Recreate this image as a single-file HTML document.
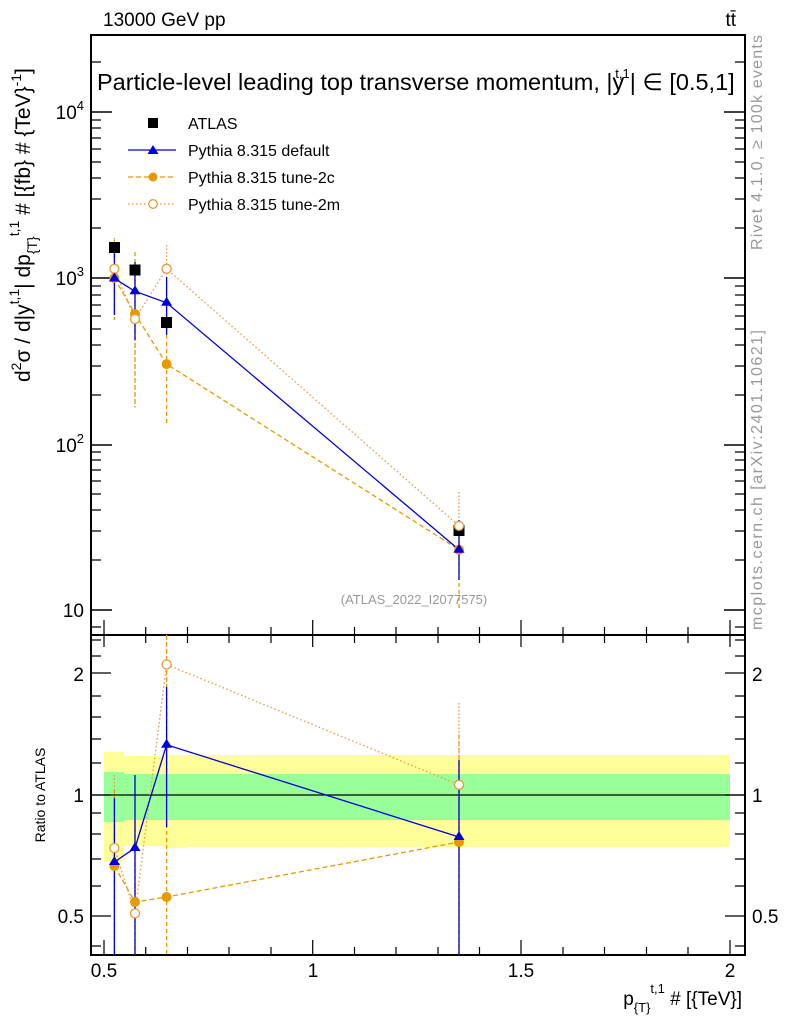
<!DOCTYPE html>
<html><head><style>body{margin:0;background:#fff}svg{display:block}text{font-family:"Liberation Sans",sans-serif}</style></head><body>
<svg width="786" height="1024" xmlns="http://www.w3.org/2000/svg">
<rect x="104" y="752" width="20" height="110" fill="#ffff99"/>
<rect x="124" y="756" width="43" height="90" fill="#ffff99"/>
<rect x="167" y="755" width="20" height="93" fill="#ffff99"/>
<rect x="187" y="755" width="543" height="92" fill="#ffff99"/>
<rect x="104" y="772" width="20" height="50" fill="#99ff99"/>
<rect x="124" y="774" width="63" height="46" fill="#99ff99"/>
<rect x="187" y="774" width="543" height="46" fill="#99ff99"/>
<line x1="91" y1="795" x2="745" y2="795" stroke="#000" stroke-width="1.2"/>
<rect x="91" y="35" width="654" height="600" fill="none" stroke="#000" stroke-width="2"/>
<rect x="91" y="635" width="654" height="320" fill="none" stroke="#000" stroke-width="2"/>
<g stroke="#000" stroke-width="1.5">
<line x1="91" y1="610" x2="112" y2="610"/><line x1="91" y1="445" x2="112" y2="445"/><line x1="91" y1="278" x2="112" y2="278"/><line x1="91" y1="112" x2="112" y2="112"/>
<line x1="724" y1="610" x2="745" y2="610"/><line x1="724" y1="445" x2="745" y2="445"/><line x1="724" y1="278" x2="745" y2="278"/><line x1="724" y1="112" x2="745" y2="112"/>
</g>
<g stroke="#000" stroke-width="1.2">
<path d="M91 627h10M91 560h10M91 531h10M91 510h10M91 494h10M91 481h10M91 470h10M91 460h10M91 452h10M91 395h10M91 366h10M91 345h10M91 329h10M91 316h10M91 305h10M91 295h10M91 286h10M91 228h10M91 199h10M91 178h10M91 162h10M91 149h10M91 138h10M91 128h10M91 120h10M91 62h10"/>
<path d="M745 627h-10M745 560h-10M745 531h-10M745 510h-10M745 494h-10M745 481h-10M745 470h-10M745 460h-10M745 452h-10M745 395h-10M745 366h-10M745 345h-10M745 329h-10M745 316h-10M745 305h-10M745 295h-10M745 286h-10M745 228h-10M745 199h-10M745 178h-10M745 162h-10M745 149h-10M745 138h-10M745 128h-10M745 120h-10M745 62h-10"/>
<path d="M91 795h20M91 673h20M91 916h20M745 795h-20M745 673h-20M745 916h-20"/>
<path d="M91 946h10M91 886h10M91 859h10M91 834h10M91 813h10M91 763h10M91 739h10M91 717h10M91 696h10M91 656h10M91 640h10M745 946h-10M745 886h-10M745 859h-10M745 834h-10M745 813h-10M745 763h-10M745 739h-10M745 717h-10M745 696h-10M745 656h-10M745 640h-10"/>
<path d="M104 635v-15M312.7 635v-15M521 635v-15M730 635v-15M104 955v-15M312.7 955v-15M521 955v-15M730 955v-15"/>
<path d="M145.7 635v-8M187.5 635v-8M229 635v-8M271 635v-8M354.5 635v-8M396 635v-8M438 635v-8M479.5 635v-8M563 635v-8M604.5 635v-8M646.5 635v-8M688 635v-8"/>
<path d="M145.7 955v-8M187.5 955v-8M229 955v-8M271 955v-8M354.5 955v-8M396 955v-8M438 955v-8M479.5 955v-8M563 955v-8M604.5 955v-8M646.5 955v-8M688 955v-8"/>
<path d="M145.7 635v8M187.5 635v8M229 635v8M271 635v8M354.5 635v8M396 635v8M438 635v8M479.5 635v8M563 635v8M604.5 635v8M646.5 635v8M688 635v8M104 635v12M312.7 635v12M521 635v12M730 635v12"/>
</g>
<g stroke="#e69a00" stroke-width="1.3" stroke-dasharray="4,3" fill="none">
<path d="M114.4 240v80M135 252v155M166.6 300v125M459 520v90"/>
</g>
<g stroke="#e8993a" stroke-width="1.3" stroke-dasharray="1.5,2" fill="none">
<path d="M114.4 238v60M135 280v128M166.6 245v60M459 492v72"/>
</g>
<g stroke="#0000dd" stroke-width="1.3" fill="none">
<path d="M114.4 245v70M135 262v78M166.6 277v58M459 520v60"/>
</g>
<polyline points="114.4,268.8 135,319 166.6,268.8 459,525.9" fill="none" stroke="#e8993a" stroke-width="1.3" stroke-dasharray="1.5,2.5"/>
<polyline points="114.4,278 135,314 166.6,364.1 459,549.7" fill="none" stroke="#e69a00" stroke-width="1.3" stroke-dasharray="5,3"/>
<polyline points="114.4,278.5 135,291.3 166.6,302.8 459,549.7" fill="none" stroke="#0000dd" stroke-width="1.3"/>
<g fill="#000"><rect x="109" y="242" width="11" height="11"/><rect x="129.5" y="264.5" width="11" height="11"/><rect x="161" y="317" width="11" height="11"/><rect x="453.5" y="525" width="11" height="11"/></g>
<g fill="#e69a00"><circle cx="114.4" cy="278" r="5"/><circle cx="135" cy="314" r="5"/><circle cx="166.6" cy="364.1" r="5"/><circle cx="459" cy="549.7" r="5"/></g>
<g fill="#fff" stroke="#e8993a" stroke-width="1.3"><circle cx="114.4" cy="268.8" r="4.5"/><circle cx="135" cy="319" r="4.5"/><circle cx="166.6" cy="268.8" r="4.5"/><circle cx="459" cy="525.9" r="4.5"/></g>
<g fill="#0000dd"><path d="M114.4 272.5l-5.5 9h11z"/><path d="M135 285.3l-5.5 9h11z"/><path d="M166.6 296.8l-5.5 9h11z"/><path d="M459 543.7l-5.5 9h11z"/></g>
<g stroke="#e69a00" stroke-width="1.3" stroke-dasharray="4,3" fill="none"><path d="M114.4 790v165M135 820v135M166.6 635v320M459 955v-220"/></g>
<g stroke="#e8993a" stroke-width="1.3" stroke-dasharray="1.5,2" fill="none"><path d="M114.4 775v180M135 820v135M166.6 635v180M459 703v252"/></g>
<g stroke="#0000dd" stroke-width="1.3" fill="none"><path d="M114.4 798v157M135 775v180M166.6 687v140M459 760v195"/></g>
<polyline points="114.4,848 135,913.4 166.6,664.5 459,784.8" fill="none" stroke="#e8993a" stroke-width="1.3" stroke-dasharray="1.5,2.5"/>
<polyline points="114.4,866 135,902 166.6,897 459,842" fill="none" stroke="#e69a00" stroke-width="1.3" stroke-dasharray="5,3"/>
<polyline points="114.4,862 135,848 166.6,744.8 459,837" fill="none" stroke="#0000dd" stroke-width="1.3"/>
<g fill="#e69a00"><circle cx="114.4" cy="866" r="5"/><circle cx="135" cy="902" r="5"/><circle cx="166.6" cy="897" r="5"/><circle cx="459" cy="842" r="5"/></g>
<g fill="#fff" stroke="#e8993a" stroke-width="1.3"><circle cx="114.4" cy="848" r="4.5"/><circle cx="135" cy="913.4" r="4.5"/><circle cx="166.6" cy="664.5" r="4.5"/><circle cx="459" cy="784.8" r="4.5"/></g>
<g fill="#0000dd"><path d="M114.4 856l-5.5 9h11z"/><path d="M135 842l-5.5 9h11z"/><path d="M166.6 738.8l-5.5 9h11z"/><path d="M459 831l-5.5 9h11z"/></g>
<rect x="148" y="118" width="10" height="10" fill="#000"/>
<text x="188" y="129" font-size="16">ATLAS</text>
<line x1="128" y1="150" x2="176" y2="150" stroke="#0000dd" stroke-width="1.3"/><path d="M153 145l-5.5 9h11z" fill="#0000dd"/>
<text x="188" y="156" font-size="16">Pythia 8.315 default</text>
<line x1="128" y1="177" x2="176" y2="177" stroke="#e69a00" stroke-width="1.3" stroke-dasharray="5,3"/><circle cx="153" cy="177" r="4.5" fill="#e69a00"/>
<text x="188" y="183" font-size="16">Pythia 8.315 tune-2c</text>
<line x1="128" y1="204" x2="176" y2="204" stroke="#e8993a" stroke-width="1.3" stroke-dasharray="1.5,2.5"/><circle cx="153" cy="204" r="4.3" fill="#fff" stroke="#e8993a" stroke-width="1.3"/>
<text x="188" y="210" font-size="16">Pythia 8.315 tune-2m</text>
<text x="103" y="26" font-size="19">13000 GeV pp</text>
<text x="736" y="26" font-size="19" text-anchor="end">tt̄</text>
<text x="97" y="90" font-size="23.5">Particle-level leading top transverse momentum, |y<tspan font-size="13" dx="-9" dy="-12">t,1</tspan><tspan dy="12">| ∈ [0.5,1]</tspan></text>
<text x="414" y="604" font-size="13" fill="#999" text-anchor="middle">(ATLAS_2022_I2077575)</text>
<g font-size="19" text-anchor="end">
<text x="84" y="617">10</text><text x="84" y="452">10<tspan font-size="13" dy="-9">2</tspan></text><text x="84" y="285">10<tspan font-size="13" dy="-9">3</tspan></text><text x="84" y="119">10<tspan font-size="13" dy="-9">4</tspan></text>
<text x="84" y="681">2</text><text x="84" y="802">1</text><text x="84" y="923">0.5</text>
</g>
<g font-size="19"><text x="752" y="681">2</text><text x="752" y="802">1</text><text x="752" y="923">0.5</text></g>
<g font-size="19" text-anchor="middle"><text x="104" y="977">0.5</text><text x="313" y="977">1</text><text x="521" y="977">1.5</text><text x="730" y="977">2</text></g>
<text x="742" y="1005" font-size="19" text-anchor="end">p<tspan font-size="13" dy="7">{T}</tspan><tspan font-size="13" dy="-19">t,1</tspan><tspan dy="12"> # [{TeV}]</tspan></text>
<text transform="translate(45,795) rotate(-90)" font-size="14" text-anchor="middle">Ratio to ATLAS</text>
<text transform="translate(30,382) rotate(-90)" font-size="21">d<tspan font-size="14" dy="-9">2</tspan><tspan dy="9">σ / d|y</tspan><tspan font-size="14" dy="-11">t,1</tspan><tspan dy="11">| dp</tspan><tspan font-size="14" dy="7">{T}</tspan><tspan font-size="14" dy="-18">t,1</tspan><tspan dy="11"> # [{fb} # {TeV}</tspan><tspan font-size="14" dy="-9">-1</tspan><tspan dy="9">]</tspan></text>
<text transform="translate(762,250) rotate(-90)" font-size="16" fill="#999" textLength="215" lengthAdjust="spacing">Rivet 4.1.0, ≥ 100k events</text>
<text transform="translate(762,630) rotate(-90)" font-size="16" fill="#999" textLength="300" lengthAdjust="spacing">mcplots.cern.ch [arXiv:2401.10621]</text>
</svg>
</body></html>
